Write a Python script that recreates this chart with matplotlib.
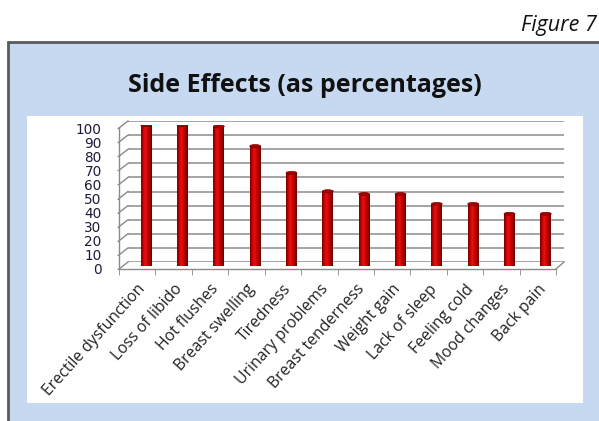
"""Side effects chart (Figure 7)"""

import matplotlib
matplotlib.use("Agg")
import matplotlib.pyplot as plt
import numpy as np
from matplotlib.lines import Line2D
from matplotlib.patches import Ellipse, Rectangle
from matplotlib.colors import LinearSegmentedColormap

categories = [
    "Erectile dysfunction", "Loss of libido", "Hot flushes", "Breast swelling",
    "Tiredness", "Urinary problems", "Breast tenderness", "Weight gain",
    "Lack of sleep", "Feeling cold", "Mood changes", "Back pain",
]
percentages = [100, 100, 99, 85, 66, 53, 51, 51, 44, 44, 37, 37]
y_ticks = list(range(0, 101, 10))

W, H = 599, 421


def box(x0, y0, x1, y1):
    # pixel box (top-left origin) -> figure fraction rect
    return [x0 / W, 1 - y1 / H, (x1 - x0) / W, (y1 - y0) / H]


fig = plt.figure(figsize=(W / 100, H / 100), dpi=100)
fig.patch.set_facecolor("white")

# outer panel and white chart area (behind the axes)
fig.add_artist(Rectangle((8 / W, -0.02), 1.0, 1 - 42 / H + 0.02, transform=fig.transFigure,
                         facecolor="#c6d9f1", edgecolor="#5a5a5a", lw=2, zorder=-20))
fig.add_artist(Rectangle((27 / W, 1 - 403 / H), (583 - 27) / W, (403 - 116) / H,
                         transform=fig.transFigure, facecolor="white", edgecolor="none",
                         zorder=-19))

fig.text(597 / W, 1 - 25 / H, "Figure 7", ha="right", va="center",
         fontsize=15.5, style="italic", family="Open Sans", color="#111111")
fig.text(305 / W, 1 - 86 / H, "Side Effects (as percentages)", ha="center", va="center",
         fontsize=18, weight="bold", family="Open Sans", color="#111111")

n = len(categories)
x = np.arange(n)
xlim = (-0.5, n - 0.5)

# back wall with gridlines
ax_back = fig.add_axes(box(128, 121, 564, 262))
ax_back.set_xlim(*xlim)
ax_back.set_ylim(0, 100)
ax_back.set_yticks(y_ticks)
ax_back.yaxis.grid(True, color="#8c8c8c", lw=1.1)
ax_back.set_xticks([])
ax_back.tick_params(left=False, labelleft=False)
for s in ax_back.spines.values():
    s.set_visible(False)
ax_back.patch.set_alpha(0)

# front edges: axis lines, ticks and labels
ax_front = fig.add_axes(box(119, 128, 556, 269))
ax_front.set_xlim(*xlim)
ax_front.set_ylim(0, 100)
ax_front.patch.set_alpha(0)
for side in ("top", "right"):
    ax_front.spines[side].set_visible(False)
for side in ("left", "bottom"):
    ax_front.spines[side].set_color("#8a8a8a")
    ax_front.spines[side].set_linewidth(1)
ax_front.set_yticks(y_ticks)
ax_front.set_yticklabels([str(v) for v in y_ticks], family="DejaVu Sans",
                         fontsize=9.8, color="#1c1c3a")
ax_front.tick_params(axis="y", length=1.5, pad=11, color="#8a8a8a")
ax_front.set_xticks(x)
ax_front.set_xticklabels(categories, rotation=48, ha="right", va="top",
                         rotation_mode="anchor", family="Open Sans",
                         fontsize=11.3, color="#222222")
ax_front.tick_params(axis="x", which="major", length=0, pad=9)
ax_front.set_xticks(np.arange(n + 1) - 0.5, minor=True)
ax_front.tick_params(axis="x", which="minor", length=4.5, color="#8a8a8a", direction="out")

# depth connectors between front edges and back wall
inv = fig.transFigure.inverted()


def depth_line(xv, yv):
    p0 = inv.transform(ax_front.transData.transform((xv, yv)))
    p1 = inv.transform(ax_back.transData.transform((xv, yv)))
    fig.add_artist(Line2D([p0[0], p1[0]], [p0[1], p1[1]], transform=fig.transFigure,
                          color="#8a8a8a", lw=1))


for v in y_ticks:
    depth_line(xlim[0], v)
depth_line(xlim[1], 0)

# cylinder bars
ax_bar = fig.add_axes(box(128, 125, 564, 266))
ax_bar.set_xlim(*xlim)
ax_bar.set_ylim(0, 100)
ax_bar.axis("off")
ax_bar.patch.set_alpha(0)

bar_w = 0.3
cyl = LinearSegmentedColormap.from_list(
    "cyl", ["#700000", "#c80000", "#ea1212", "#d00000", "#a00000", "#640000"])
grad = np.linspace(0, 1, 64).reshape(1, -1)
bars = ax_bar.bar(x, percentages, width=bar_w, color="#c00000", edgecolor="none")
for rect, val in zip(bars, percentages):
    x0 = rect.get_x()
    im = ax_bar.imshow(grad, cmap=cyl, aspect="auto", interpolation="bicubic",
                       extent=(x0, x0 + bar_w, 0, val), zorder=3)
    im.set_clip_path(rect)
    ax_bar.add_patch(Ellipse((x0 + bar_w / 2, val), bar_w, 2.2, facecolor="#a80000",
                             edgecolor="#7a0000", lw=0.5, zorder=4))
    ax_bar.add_patch(Ellipse((x0 + bar_w / 2, 0), bar_w, 2.2, facecolor="#8a0000",
                             edgecolor="none", zorder=2))
ax_bar.set_xlim(*xlim)
ax_bar.set_ylim(0, 100)

fig.savefig("out.png", dpi=100)
plt.close(fig)
